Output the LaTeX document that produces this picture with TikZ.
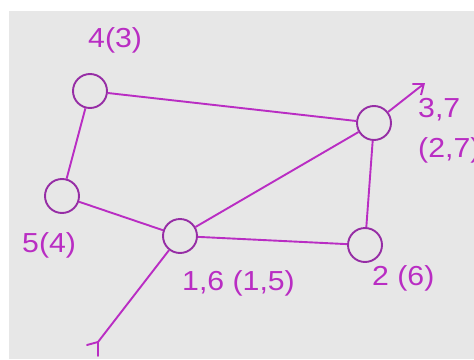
\documentclass[tikz,border=0pt]{standalone}
\usepackage{fontspec}
\setmainfont{Liberation Sans}
\usetikzlibrary{arrows.meta}
\definecolor{bgray}{RGB}{231,231,231}
\definecolor{mag}{RGB}{185,45,195}
\definecolor{ring}{RGB}{150,45,165}
\newcommand{\lbl}[1]{\scalebox{1.1}[1]{\fontsize{27.5}{32}\selectfont #1}}
\begin{document}
\begin{tikzpicture}[x=1pt,y=-1pt,
  vtx/.style={circle,draw=ring,line width=1.9pt,fill=bgray,minimum size=34pt,inner sep=0pt},
  edge/.style={draw=mag,line width=1.9pt},
  barb/.style={draw=mag,line width=1.9pt,line cap=round,line join=round},
  lab/.style={text=mag,anchor=base west,inner sep=0pt}]
\useasboundingbox (0,0) rectangle (474,359);
\fill[white] (0,0) rectangle (474,359);
\fill[bgray] (9,11) rectangle (474,359);
% vertices
\node[vtx] (n4) at (90,91) {};
\node[vtx] (n3) at (374,123) {};
\node[vtx] (n5) at (62,196) {};
\node[vtx] (n1) at (180,236) {};
\node[vtx] (n2) at (365,245) {};
\coordinate (out) at (425,83);
\coordinate (in) at (98,342);
\coordinate (inA) at (87,345);
\coordinate (inB) at (98,356);
% edges
\draw[edge] (n4) -- (n3);
\draw[edge] (n4) -- (n5);
\draw[edge] (n5) -- (n1);
\draw[edge] (n1) -- (n3);
\draw[edge] (n1) -- (n2);
\draw[edge] (n3) -- (n2);
\draw[edge,-{Straight Barb[length=9pt,width=14pt]}] (n3) -- (out);
\draw[edge] (n1) -- (in);
\draw[barb] (inA) -- (in) -- (inB);
% labels
\node[lab] (l4) at (88,47) {\lbl{4(3)}};
\node[lab] (l5) at (22,252) {\lbl{5(4)}};
\node[lab] (l1) at (182,290) {\lbl{1,6 (1,5)}};
\node[lab] (l2) at (372,285) {\lbl{2 (6)}};
\node[lab] (l3a) at (418,117) {\lbl{3,7}};
\node[lab] (l3b) at (418,157) {\lbl{(2,7)}};
\end{tikzpicture}
\end{document}
